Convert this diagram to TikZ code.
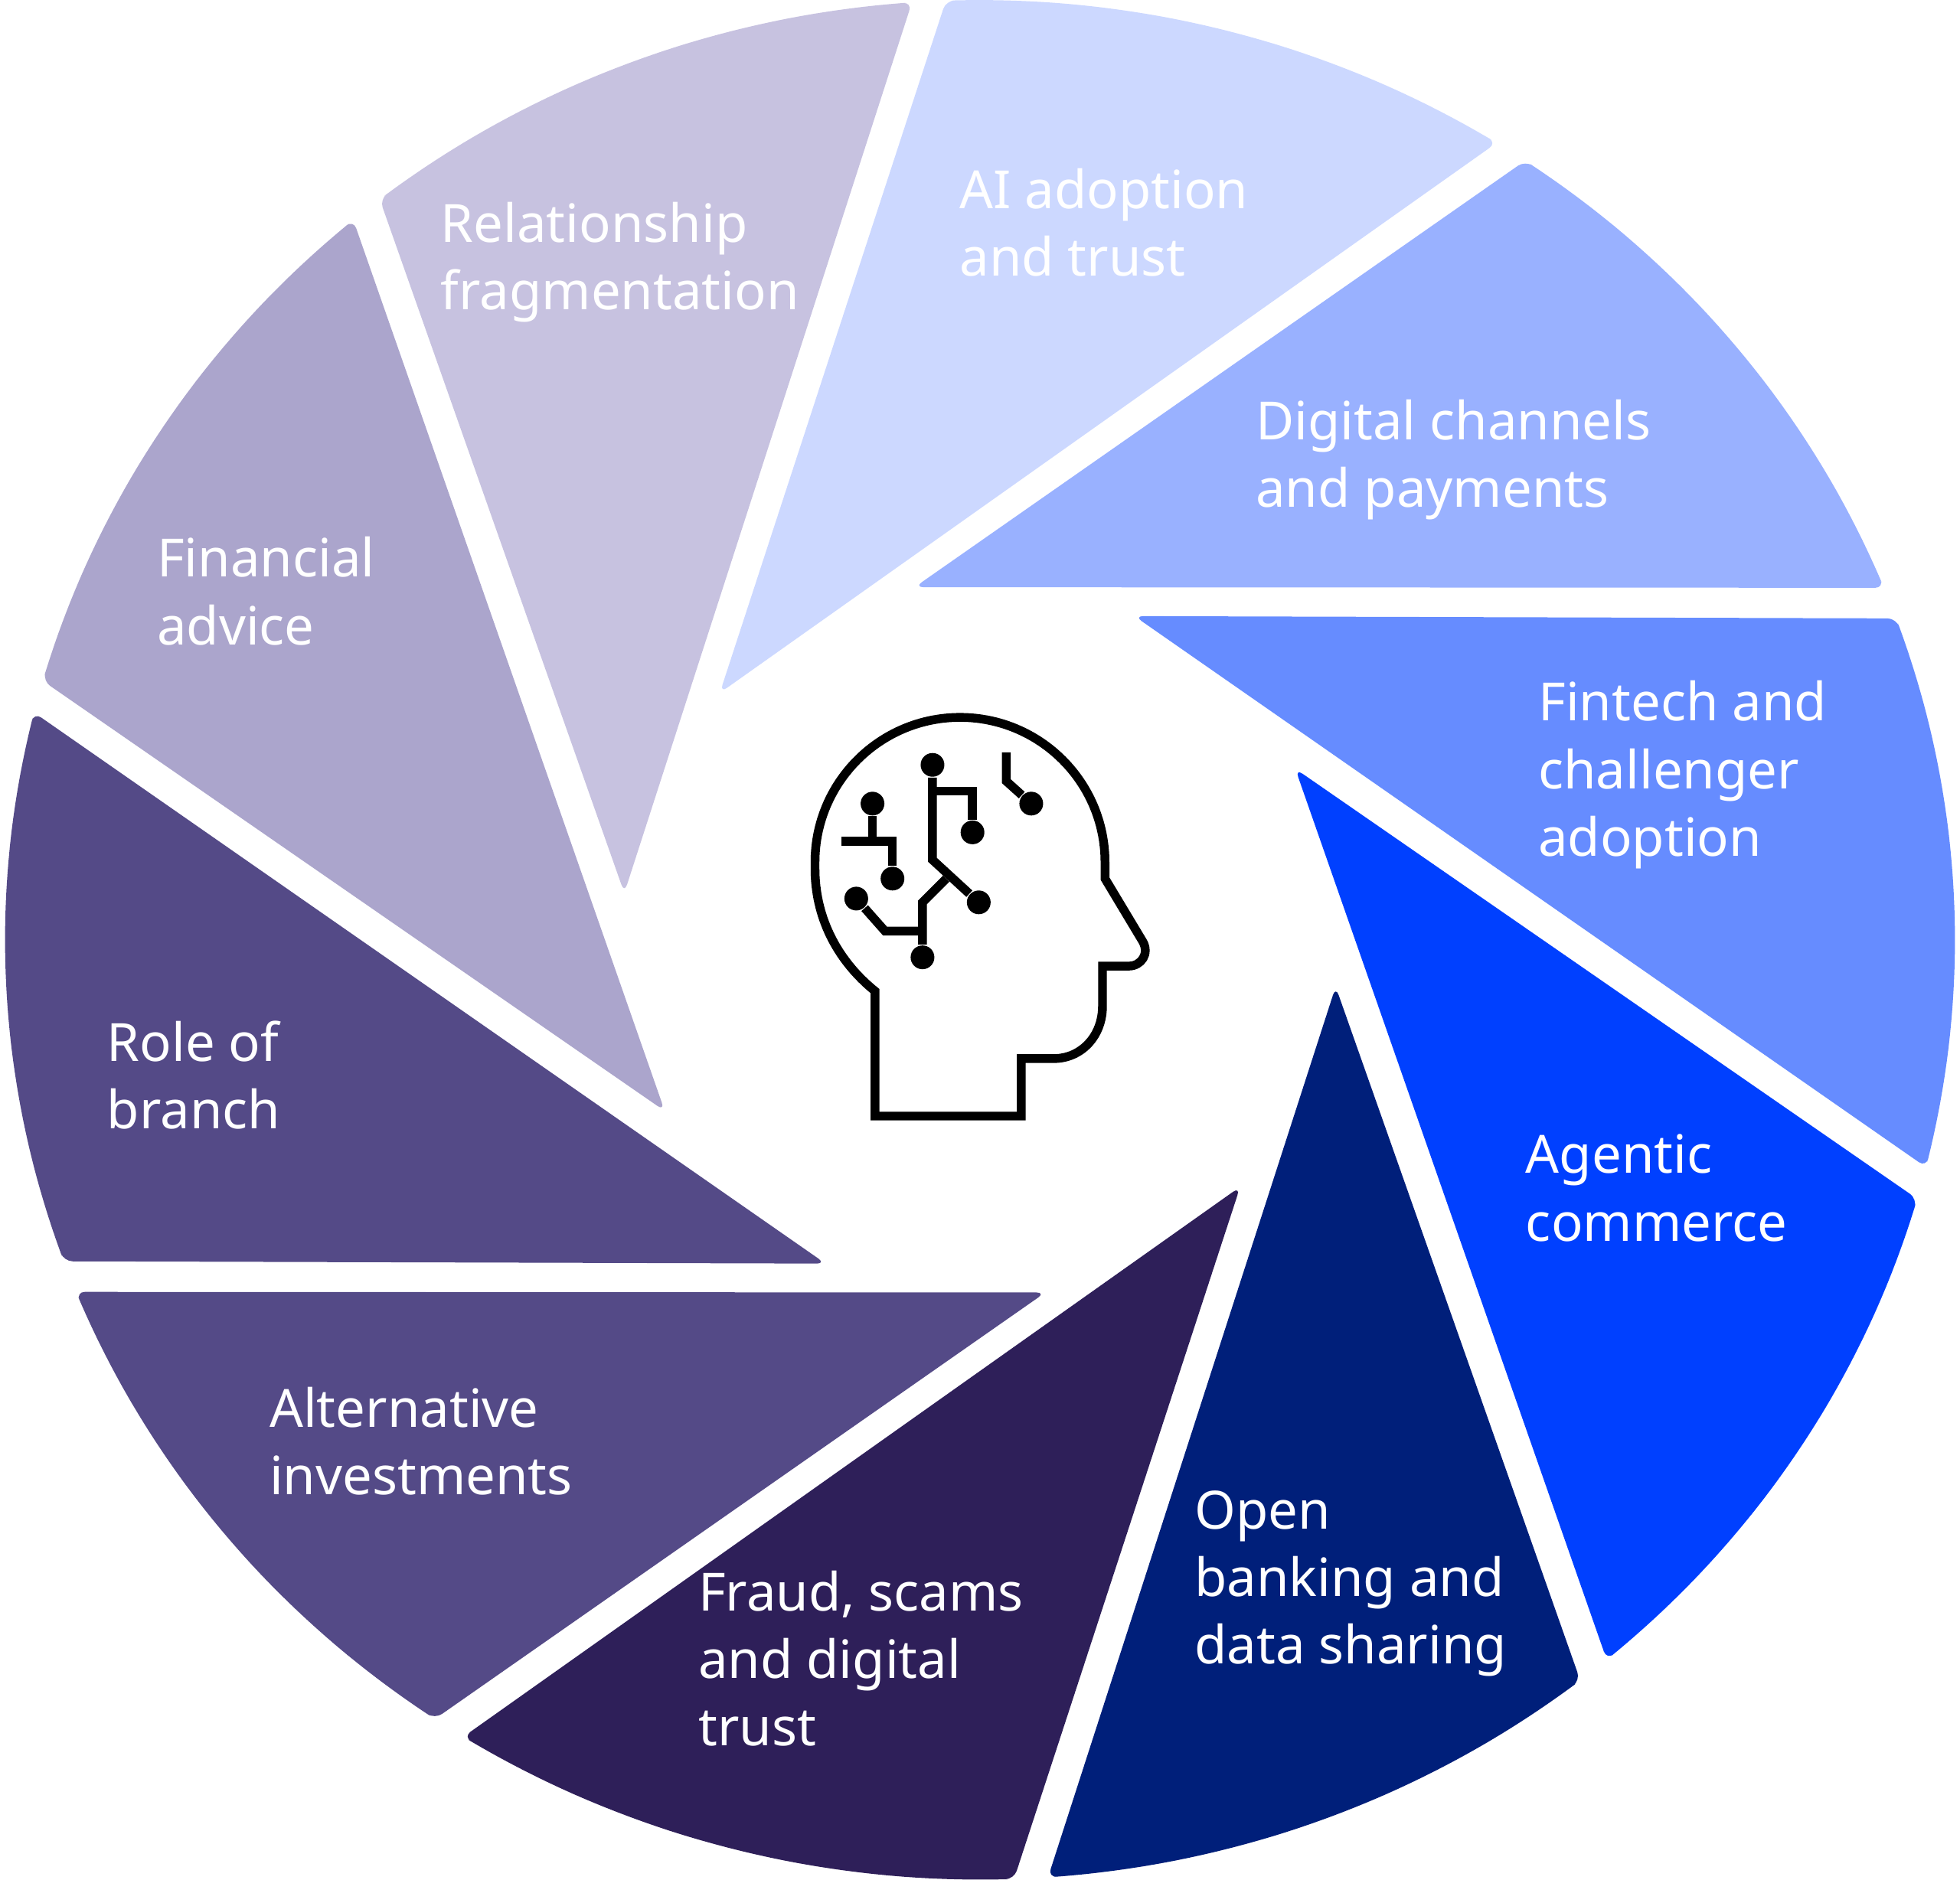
\documentclass[tikz,border=0pt]{standalone}
\usepackage{fontspec}
\setmainfont{Noto Sans}
\usetikzlibrary{positioning, calc}
\definecolor{bladeA}{HTML}{CCD8FF}
\definecolor{bladeB}{HTML}{99B1FF}
\definecolor{bladeC}{HTML}{668CFF}
\definecolor{bladeD}{HTML}{0040FF}
\definecolor{bladeE}{HTML}{001F7A}
\definecolor{bladeF}{HTML}{2E1F59}
\definecolor{bladeG}{HTML}{544A87}
\definecolor{bladeH}{HTML}{544A87}
\definecolor{bladeI}{HTML}{ABA5CC}
\definecolor{bladeJ}{HTML}{C7C2E0}
\begin{document}
\begin{tikzpicture}[
        x=0.1mm, y=-0.1mm,
        label/.style={anchor=north west, inner sep=0pt, align=left, text=white,
            font=\fontsize{12}{15.4}\selectfont},
        wire/.style={line width=2pt, line join=miter},
        dot/.style={circle, fill=black, minimum size=1.9mm, inner sep=0pt}
    ]
        \useasboundingbox (0,0) rectangle (1568,1504);
        % Blades of the aperture
        \foreach \s/\c in {92/bladeA, 56/bladeB, 20/bladeC, -16/bladeD, -52/bladeE,
                -88/bladeF, -124/bladeG, -160/bladeH, -196/bladeI, -232/bladeJ} {
            \fill[\c, rounded corners=2]
                ({784+287*cos(\s+44.5)},{752-287*sin(\s+44.5)})
                -- plot[domain=\s:\s-34, samples=40] ({784+780*cos(\x)},{752-752*sin(\x)})
                -- cycle;
        }

        % Labels
        \node[label] (AI) at (767,134) {AI adoption\\and trust};
        \node[label] (Digital) at (1004,319) {Digital channels\\and payments};
        \node[label] (Fintech) at (1230,544) {Fintech and\\challenger\\adoption};
        \node[label] (Agentic) at (1220,907) {Agentic\\commerce};
        \node[label] (Open) at (955,1192) {Open\\banking and\\data sharing};
        \node[label] (Fraud) at (558,1256) {Fraud, scams\\and digital\\trust};
        \node[label] (Alt) at (215,1109) {Alternative\\investments};
        \node[label] (Branch) at (85,816) {Role of\\branch};
        \node[label] (Advice) at (125,429) {Financial\\advice};
        \node[label] (Rel) at (352,161) {Relationship\\fragmentation};

        % Head icon
        \draw[wire] (700,893) -- (700,793)
            .. controls (668,767) and (652,732) .. (652,695)
            -- (652,690) arc[start angle=180, end angle=0, radius=11.6mm]
            -- (884,703) -- (914,753)
            .. controls (920,763) and (913,773) .. (903,773)
            -- (882,773) -- (882,805)
            .. controls (882,829) and (865,847) .. (843,847)
            -- (817,847) -- (817,893) -- cycle;
        \node[dot] (d1) at (746,612) {};
        \node[dot] (d2) at (783,722) {};
        \node[dot] (d3) at (778,666) {};
        \node[dot] (d4) at (698,643) {};
        \node[dot] (d5) at (714,703) {};
        \node[dot] (d6) at (685,719) {};
        \node[dot] (d7) at (738,766) {};
        \node[dot] (d8) at (825,643) {};
        \draw[wire] (d1) -- (746,688) -- (d2);
        \draw[wire] (746,633) -- (778,633) -- (d3);
        \draw[wire] (d4) -- (698,673);
        \draw[wire] (673,673) -- (714,673) -- (d5);
        \draw[wire] (d6) -- (708,745) -- (738,745);
        \draw[wire] (757,703) -- (738,722) -- (d7);
        \draw[wire] (805,602) -- (805,625) -- (d8);
    \end{tikzpicture}
\end{document}
